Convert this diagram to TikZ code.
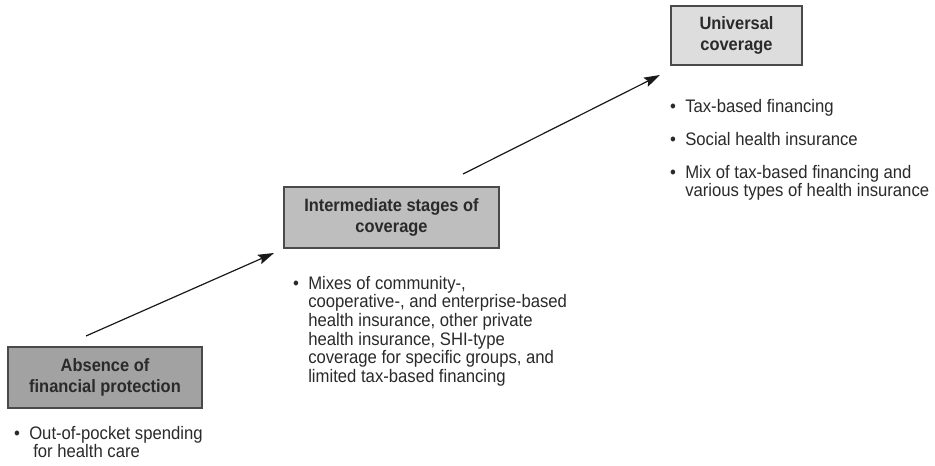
\documentclass[tikz,border=0pt]{standalone}
\usepackage{fontspec}
\usetikzlibrary{arrows.meta}
\newfontfamily\cond[FakeStretch=0.92]{Liberation Sans}
\definecolor{boxA}{HTML}{A2A2A2}
\definecolor{boxB}{HTML}{BEBEBE}
\definecolor{boxC}{HTML}{DDDDDD}
\definecolor{edge}{HTML}{4A4A4A}
\definecolor{txt}{HTML}{2A2A2A}
\begin{document}
\begin{tikzpicture}[x=0.75pt,y=-0.75pt,
  stage/.style={draw=edge, line width=1.1pt, inner sep=0pt, align=center,
    font=\cond\bfseries\fontsize{13.4}{15.5}\selectfont, text=txt},
  bul/.style={anchor=north west, inner sep=0pt, align=left,
    font=\cond\fontsize{13.6}{14}\selectfont, text=txt},
  arr/.style={line width=0.9pt, -{Stealth[length=12pt,width=7.5pt,inset=2pt]}, draw=black!90}]
\useasboundingbox (0,0) rectangle (935,466);
% boxes
\node[stage, fill=boxA, minimum width=145.5pt, minimum height=45.75pt] (absence) at (105,377.5) {Absence of\\financial protection};
\node[stage, fill=boxB, minimum width=161.25pt, minimum height=45.75pt] (inter) at (391.5,217.5) {Intermediate stages of\\coverage};
\node[stage, fill=boxC, minimum width=98.25pt, minimum height=44.25pt] (univ) at (736.5,35.5) {Universal\\coverage};
% bullets (top = first baseline - 13.3px)
\node[bul] (b1) at (29,425.7) {\llap{\textbullet\hspace{7pt}}Out-of-pocket spending\\\hspace{3pt}for health care};
\node[bul] (b2) at (308,275.7) {\llap{\textbullet\hspace{7pt}}Mixes of community-,\\cooperative-, and enterprise-based\\health insurance, other private\\health insurance, SHI-type\\coverage for specific groups, and\\limited tax-based financing};
\node[bul] (b3) at (685,98.7) {\llap{\textbullet\hspace{7pt}}Tax-based financing};
\node[bul] (b4) at (685,131.7) {\llap{\textbullet\hspace{7pt}}Social health insurance};
\node[bul] (b5) at (685,164.7) {\llap{\textbullet\hspace{7pt}}Mix of tax-based financing and\\various types of health insurance};
% arrows
\coordinate (a1s) at (86,336);
\coordinate (a1e) at (274,253);
\coordinate (a2s) at (463,174);
\coordinate (a2e) at (660,75);
\draw[arr] (a1s) -- (a1e);
\draw[arr] (a2s) -- (a2e);
\end{tikzpicture}
\end{document}
